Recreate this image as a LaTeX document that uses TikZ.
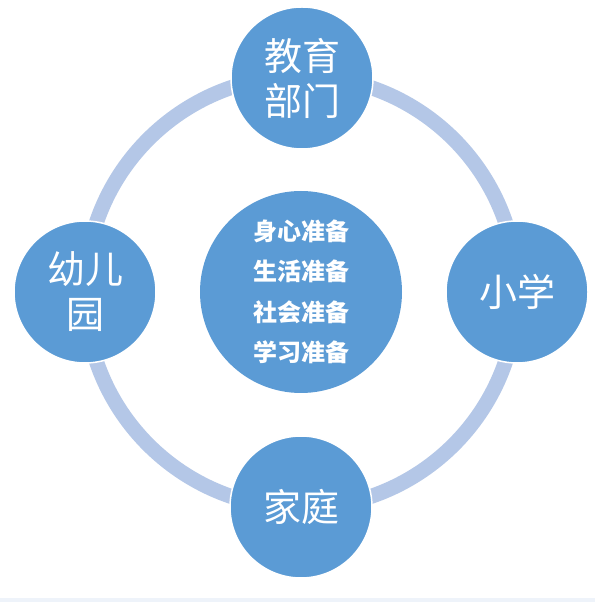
\documentclass[tikz,border=0pt]{standalone}
\usepackage{fontspec}
\newfontfamily\cjk{Noto Sans CJK SC}
\usepackage{tikz}
\usetikzlibrary{positioning}
\definecolor{ringblue}{HTML}{B4C7E7}
\definecolor{discblue}{HTML}{5B9BD5}
\definecolor{stripgrey}{HTML}{EEF3FA}
\tikzstyle{partner} = [circle, fill=discblue, draw=white, line width=1.5pt, minimum size=142pt, inner sep=0pt, text=white, align=center, font=\cjk\fontsize{38}{45}\selectfont]
\tikzstyle{core} = [circle, fill=discblue, minimum size=202pt, inner sep=0pt, text=white, align=center, font=\cjk\bfseries\fontsize{24}{40.5}\selectfont]

\begin{document}
\begin{tikzpicture}[x=1pt,y=1pt]

\useasboundingbox (0,0) rectangle (595,602);
\fill[white] (0,0) rectangle (595,602);
\fill[stripgrey] (0,0) rectangle (595,4);

\coordinate (hub) at (301,310);
\draw[ringblue, line width=15pt] (hub) circle (216pt);

\node [core] (prep) at (hub) {身心准备\\生活准备\\社会准备\\学习准备};

\node [partner] (edu) at (302,524) {教育\\部门};
\node [partner] (school) at (517,310) {小学};
\node [partner] (home) at (301,95) {家庭};
\node [partner] (kinder) at (85,310) {幼儿\\园};

\end{tikzpicture}
\end{document}
